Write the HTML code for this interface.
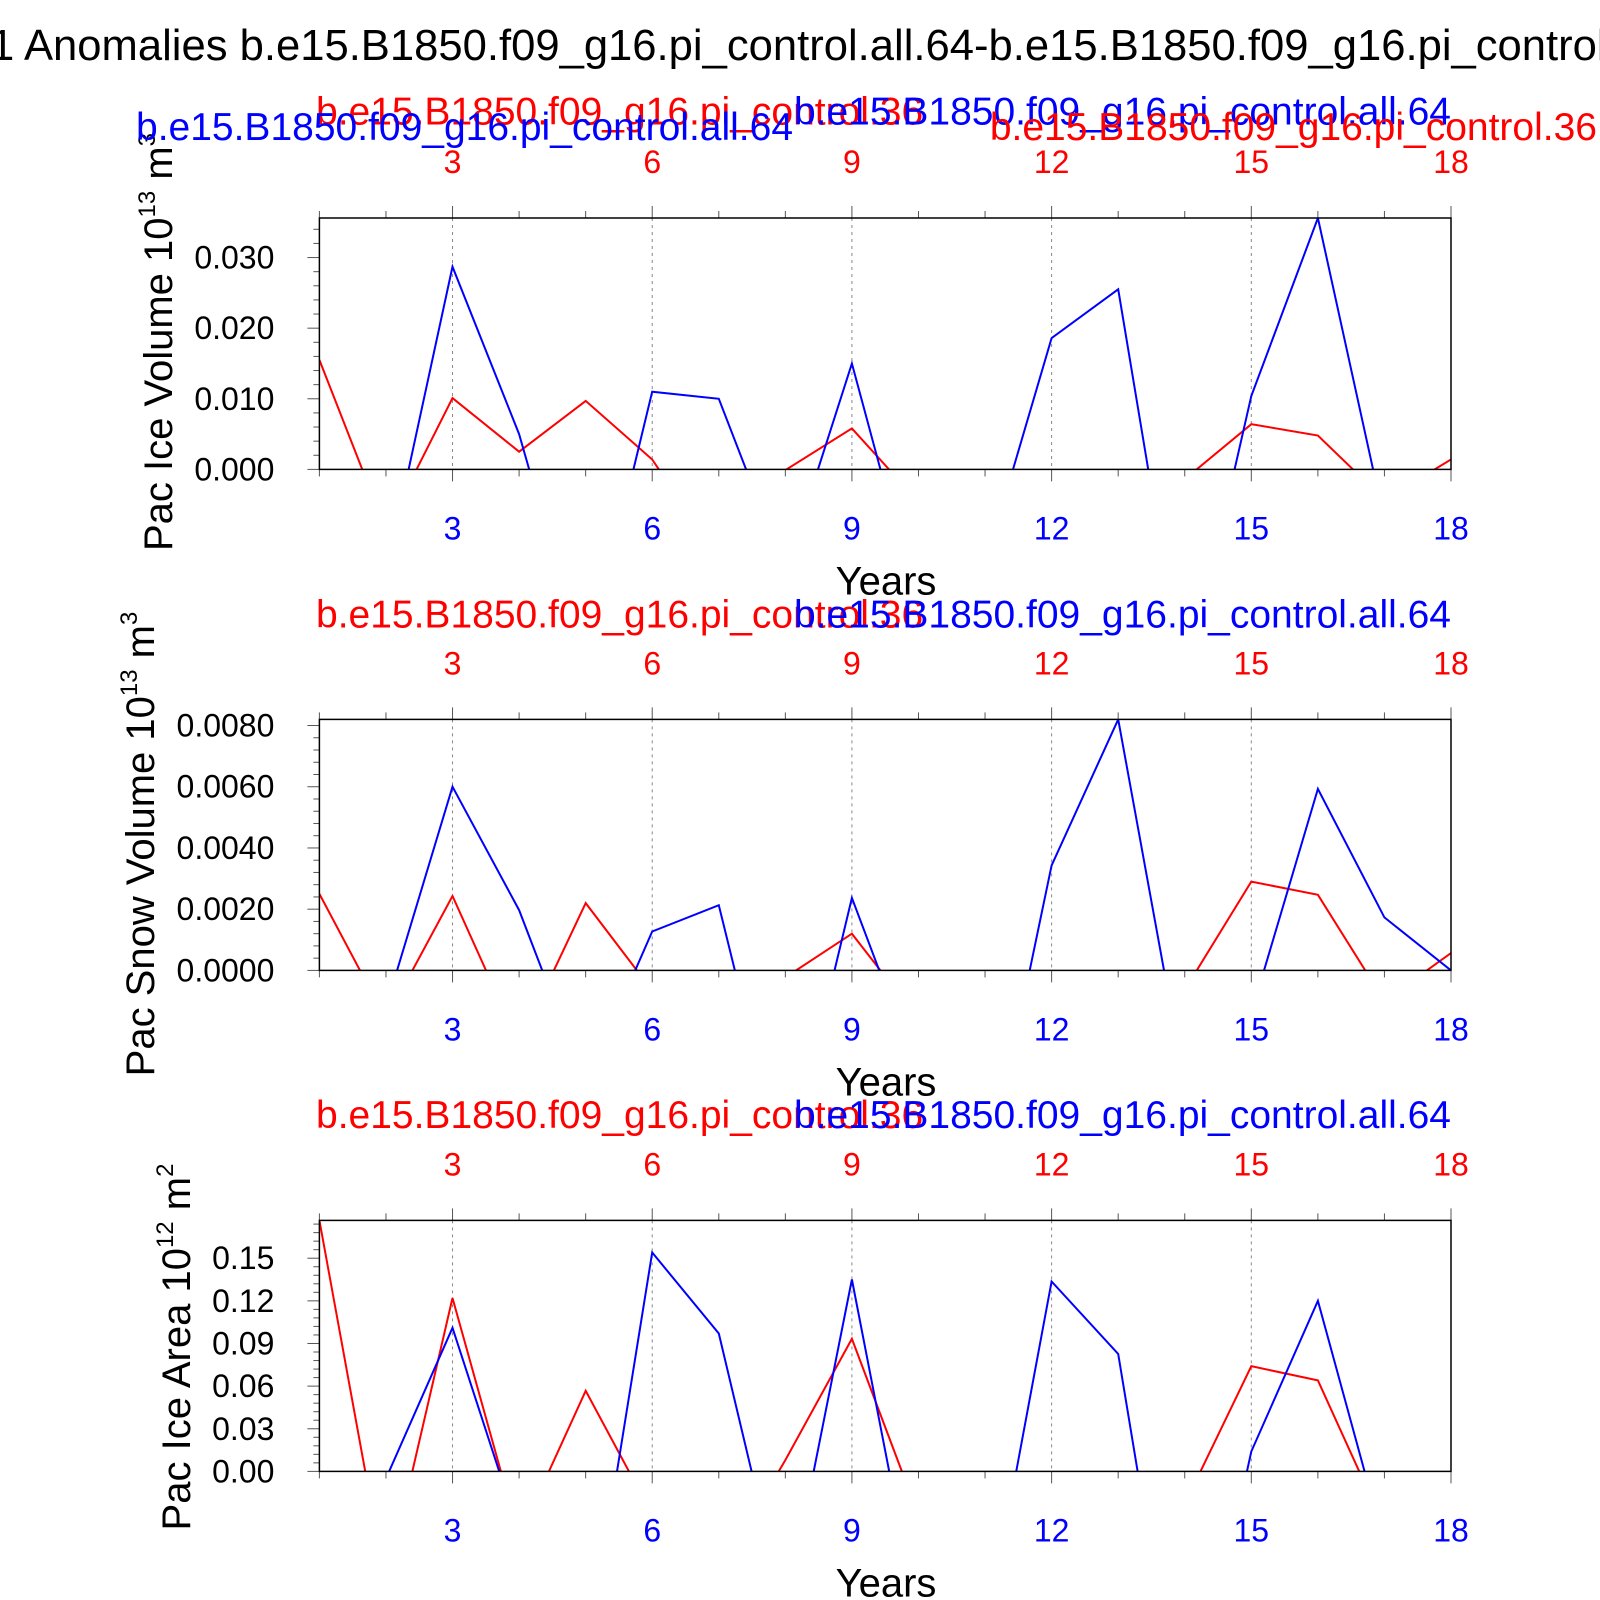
<!DOCTYPE html>
<html><head><meta charset="utf-8"><style>
html,body{margin:0;padding:0;background:#fff;overflow:hidden;}
svg{display:block;font-family:"Liberation Sans",sans-serif;}
</style></head><body>
<svg id="chart" width="1600" height="1600" viewBox="0 0 1600 1600" xmlns="http://www.w3.org/2000/svg">
<text x="-10" y="60" font-size="43.6" fill="#000">1 Anomalies b.e15.B1850.f09_g16.pi_control.all.64-b.e15.B1850.f09_g16.pi_control.36</text>
</svg>
<script>
const years = [1,2,3,4,5,6,7,8,9,10,11,12,13,14,15,16,17,18];
const xTicks = [3,6,9,12,15,18];
const iceVolBlue = [-0.01,-0.0148,0.0287,0.005,-0.028,0.011,0.010,-0.0144,0.015,-0.02,-0.0135,0.0186,0.0255,-0.031,0.0104,0.0356,-0.0073,-0.01];
const iceVolRed = [0.0155,-0.0086,0.0101,0.0025,0.0097,0.0014,-0.0126,-0.0001,0.0058,-0.0046,-0.005,-0.005,-0.005,-0.0014,0.0064,0.0048,-0.0043,0.0014];
const snowBlue = [-0.002,-0.0012,0.006,0.00197,-0.0037,0.00127,0.00213,-0.0067,0.00237,-0.0034,-0.007,0.00343,0.0082,-0.0037,-0.0014,0.00593,0.00173,0.0];
const snowRed = [0.0025,-0.0016,0.00243,-0.0024,0.0022,-0.00066,-0.001,-0.00023,0.0012,-0.0016,-0.002,-0.002,-0.002,-0.00064,0.0029,0.00247,-0.001,0.00057];
const areaBlue = [-0.03,-0.005,0.101,-0.043,-0.137,0.154,0.097,-0.1,0.135,-0.106,-0.118,0.1336,0.0826,-0.2,0.014,0.12,-0.051,-0.05];
const areaRed = [0.1766,-0.08,0.122,-0.046,0.0567,-0.0305,-0.072,0.008,0.0933,-0.031,-0.04,-0.04,-0.04,-0.023,0.074,0.064,-0.039,0.0];
const tickLabels1 = ["0.000","0.010","0.020","0.030"];
const tickLabels2 = ["0.0000","0.0020","0.0040","0.0060","0.0080"];
const tickLabels3 = ["0.00","0.03","0.06","0.09","0.12","0.15"];

const NS = "http://www.w3.org/2000/svg";
const svg = document.getElementById('chart');
function mk(tag, attrs, parent){
  const e = document.createElementNS(NS, tag);
  for (const k in attrs) e.setAttribute(k, attrs[k]);
  (parent||svg).appendChild(e); return e;
}
const L = 319.4, R = 1451;
const xs = y => L + (y - 1) * (R - L) / 17;

const panels = [
  {top:218, bot:469.4, max:0.0356, step:0.01, labels:tickLabels1, blue:iceVolBlue, red:iceVolRed,
   ytitle:"Pac Ice Volume 10", sup:"13", unit:" m", usup:"3", tx:172, ty:342, key:"ice-volume",
   labY:124.5, extra:true},
  {top:719.4, bot:970.4, max:0.0082, step:0.002, labels:tickLabels2, blue:snowBlue, red:snowRed,
   ytitle:"Pac Snow Volume 10", sup:"13", unit:" m", usup:"3", tx:154, ty:844, key:"snow-volume",
   labY:627.5},
  {top:1220.4, bot:1471.4, max:0.1766, step:0.03, labels:tickLabels3, blue:areaBlue, red:areaRed,
   ytitle:"Pac Ice Area 10", sup:"12", unit:" m", usup:"2", tx:190, ty:1347, key:"ice-area",
   labY:1128}
];

panels.forEach((p, pi) => {
  const g = mk('g', {});
  
  
  const ys = v => p.bot - v * (p.bot - p.top) / p.max;
  const cid = 'clip' + pi;
  const cp = mk('clipPath', {id: cid}, g);
  mk('rect', {x:L, y:p.top, width:R-L, height:p.bot-p.top}, cp);
  years.forEach(yr => {
    const x = xs(yr);
    const major = xTicks.includes(yr);
    if (major && yr < 18) {
      const gl = mk('line', {x1:x, x2:x, y1:p.top, y2:p.bot, stroke:'#888', 'stroke-width':1, 'stroke-dasharray':'3,4'}, g);
      
      
    }
    const len = major ? 12 : 7;
    mk('line', {x1:x, x2:x, y1:p.top, y2:p.top - len, stroke:'#555', 'stroke-width':1}, g);
    mk('line', {x1:x, x2:x, y1:p.bot, y2:p.bot + len, stroke:'#555', 'stroke-width':1}, g);
  });
  xTicks.forEach(t => {
    const a = mk('text', {x:xs(t), y:p.top - 45, 'font-size':32, fill:'#f00', 'text-anchor':'middle'}, g);
    a.textContent = t;
    
    
    const b = mk('text', {x:xs(t), y:p.bot + 70, 'font-size':32, fill:'#00f', 'text-anchor':'middle'}, g);
    b.textContent = t;
    
    
  });
  const minor = p.step / 5;
  for (let v = 0; v <= p.max + 1e-9; v += minor) {
    const y = ys(v);
    const isMajor = Math.abs(v / p.step - Math.round(v / p.step)) < 1e-6;
    mk('line', {x1:L, x2:L - (isMajor ? 12 : 6), y1:y, y2:y, stroke:'#555', 'stroke-width':1}, g);
  }
  p.labels.forEach((lab, i) => {
    const t = mk('text', {x:L - 45, y:ys(i * p.step) + 11, 'font-size':32, fill:'#000', 'text-anchor':'end'}, g);
    t.textContent = lab;
    
    
  });
  [['red', p.red, '#ff0000'], ['blue', p.blue, '#0000ff']].forEach(([nm, arr, col]) => {
    const d = arr.map((v, i) => (i ? 'L' : 'M') + xs(years[i]).toFixed(1) + ',' + ys(v).toFixed(1)).join(' ');
    const path = mk('path', {d:d, fill:'none', stroke:col, 'stroke-width':2, 'clip-path':'url(#' + cid + ')'}, g);
    
    
  });
  const fr = mk('rect', {x:L, y:p.top, width:R-L, height:p.bot-p.top, fill:'none', stroke:'#000', 'stroke-width':1.5}, g);
  
  
  const xt = mk('text', {x:886, y:p.bot + 125, 'font-size':40, fill:'#000', 'text-anchor':'middle'}, g);
  xt.textContent = 'Years';
  
  
  const yt = mk('text', {x:0, y:0, 'font-size':40, fill:'#000', 'text-anchor':'middle', transform:'translate(' + p.tx + ',' + p.ty + ') rotate(-90)'}, g);
  
  
  const s1 = mk('tspan', {}, yt); s1.textContent = p.ytitle;
  const s2 = mk('tspan', {dy:-17, 'font-size':24}, yt); s2.textContent = p.sup;
  const s3 = mk('tspan', {dy:17}, yt); s3.textContent = p.unit;
  const s4 = mk('tspan', {dy:-17, 'font-size':24}, yt); s4.textContent = p.usup;
  const rl = mk('text', {x:316, y:p.labY, 'font-size':39, fill:'#f00'}, g);
  rl.textContent = 'b.e15.B1850.f09_g16.pi_control.36';
  
  
  const bl = mk('text', {x:1451, y:p.labY, 'font-size':39, fill:'#00f', 'text-anchor':'end'}, g);
  bl.textContent = 'b.e15.B1850.f09_g16.pi_control.all.64';
  
  
  if (p.extra) {
    const b2 = mk('text', {x:136, y:140, 'font-size':39, fill:'#00f'}, g);
    b2.textContent = 'b.e15.B1850.f09_g16.pi_control.all.64';
    
    
    const r2 = mk('text', {x:1597, y:140, 'font-size':39, fill:'#f00', 'text-anchor':'end'}, g);
    r2.textContent = 'b.e15.B1850.f09_g16.pi_control.36';
    
    
  }
});
</script>
</body></html>
